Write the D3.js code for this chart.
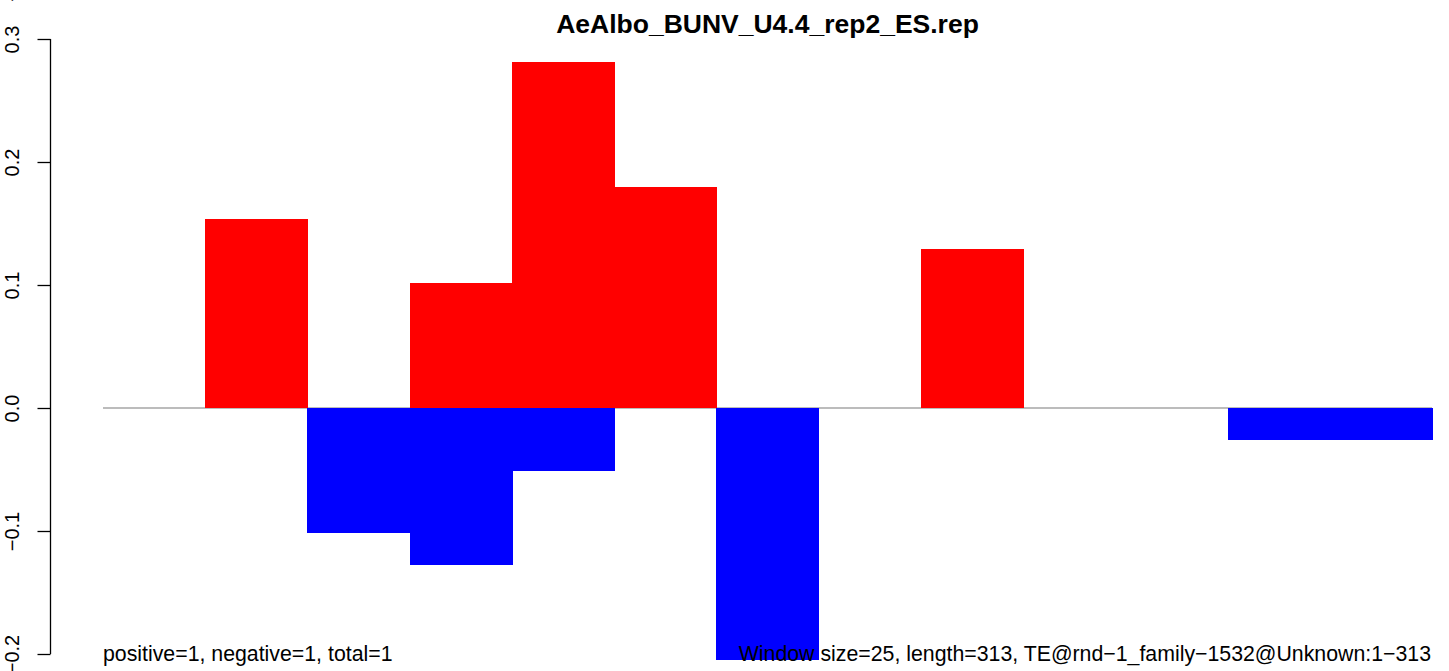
<!DOCTYPE html>
<html>
<head>
<meta charset="utf-8">
<script src="https://cdn.jsdelivr.net/npm/d3@7"></script>
<style>
  html, body { margin: 0; padding: 0; background: #fff; }
  svg { display: block; font-family: "Liberation Sans", Arial, Helvetica, sans-serif; }
</style>
</head>
<body>
<svg id="chart" width="1449" height="671"></svg>
<script>
// ---- data ----
const title = "AeAlbo_BUNV_U4.4_rep2_ES.rep";
const windows = [0, 1, 2, 3, 4, 5, 6, 7, 8, 9, 10, 11, 12];
const positiveValues = [0, 0.154, 0, 0.102, 0.281, 0.180, 0, 0, 0.129, 0, 0, 0, 0];
const negativeValues = [0, 0, -0.102, -0.128, -0.051, 0, -0.205, 0, 0, 0, 0, -0.026, -0.026];
const yTicks = [-0.2, -0.1, 0.0, 0.1, 0.2, 0.3];
const leftNote = "positive=1, negative=1, total=1";
const rightNote = "Window size=25, length=313, TE@rnd\u22121_family\u22121532@Unknown:1\u2212313";

const svg = d3.select("#chart");
const x = d3.scaleBand().domain(windows).range([103, 1432]).padding(0);
const y = d3.scaleLinear().domain([-0.2, 0.3]).range([654, 39]);

// zero line
svg.append("line")
  .attr("x1", x.range()[0]).attr("x2", x.range()[1])
  .attr("y1", y(0)).attr("y2", y(0))
  .attr("stroke", "#a6a6a6").attr("stroke-width", 1.5);

// bars
const posData = windows.map((w, i) => ({w, v: positiveValues[i]})).filter(d => d.v !== 0);
const negData = windows.map((w, i) => ({w, v: negativeValues[i]})).filter(d => d.v !== 0);

svg.append("g").attr("shape-rendering", "crispEdges")
  .selectAll("rect").data(posData).join("rect")
  .attr("x", d => x(d.w)).attr("width", x.bandwidth() + 0.6)
  .attr("y", d => y(d.v)).attr("height", d => y(0) - y(d.v))
  .attr("fill", "#ff0000");

svg.append("g").attr("shape-rendering", "crispEdges")
  .selectAll("rect").data(negData).join("rect")
  .attr("x", d => x(d.w)).attr("width", x.bandwidth() + 0.6)
  .attr("y", y(0)).attr("height", d => y(d.v) - y(0))
  .attr("fill", "#0000ff");

// y axis (R style)
const fmt = v => (v < 0 ? "\u2212" : "") + Math.abs(v).toFixed(1);
const axis = svg.append("g").attr("transform", "translate(50.5,0)")
  .call(d3.axisLeft(y).tickValues(yTicks).tickSize(13).tickFormat(fmt));
axis.select(".domain").attr("stroke", "#000").attr("stroke-width", 1.3)
  .attr("d", `M0,${y(0.3)}V${y(-0.2)}`);
axis.selectAll(".tick line").attr("stroke", "#000").attr("stroke-width", 1.3);
axis.selectAll(".tick text")
  .attr("x", null).attr("dy", null)
  .attr("transform", "translate(-32,0) rotate(-90)")
  .attr("text-anchor", "middle")
  .attr("fill", "#000")
  .style("font-size", "20px")
  .style("font-family", "'Liberation Sans', Arial, sans-serif");

// stray label remnant at top-left
svg.append("text")
  .attr("transform", "translate(18.5,-4) rotate(-90)")
  .attr("text-anchor", "middle")
  .style("font-size", "20px")
  .text("\u2212");

// title
svg.append("text")
  .attr("x", (x.range()[0] + x.range()[1]) / 2).attr("y", 33)
  .attr("text-anchor", "middle")
  .style("font-size", "26.5px").style("font-weight", "bold")
  .text(title);

// bottom notes
svg.append("text")
  .attr("x", 103).attr("y", 661)
  .style("font-size", "21.3px")
  .text(leftNote);
svg.append("text")
  .attr("x", 1431).attr("y", 661)
  .attr("text-anchor", "end")
  .style("font-size", "21.3px")
  .text(rightNote);
</script>
</body>
</html>
